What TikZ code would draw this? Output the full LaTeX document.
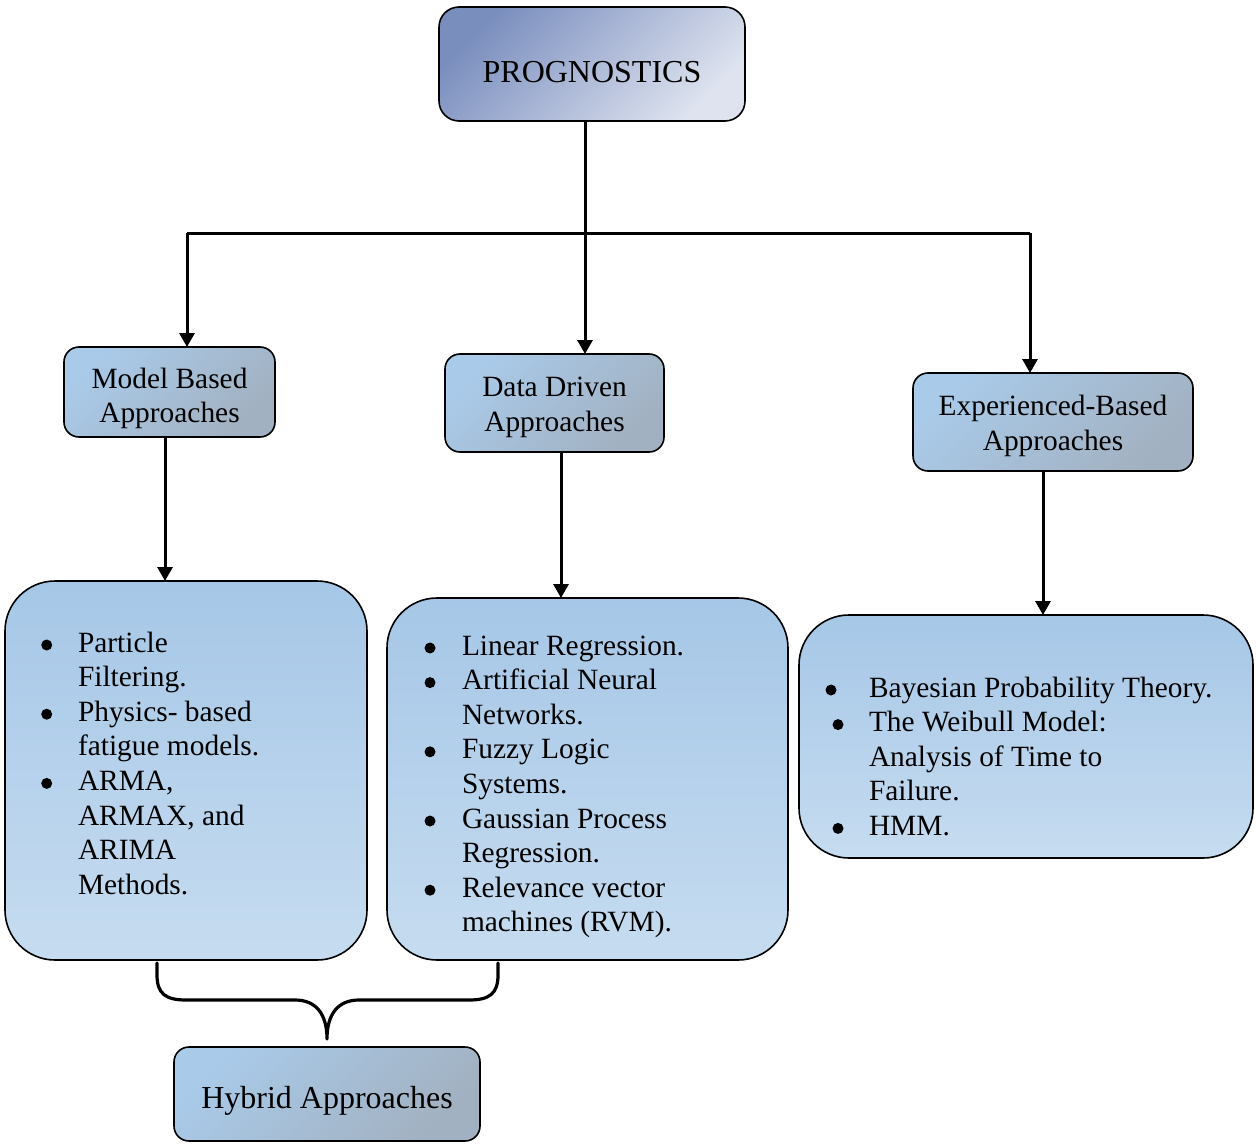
\documentclass[tikz,border=0pt]{standalone}
\usepackage{fontspec}
\setmainfont{Liberation Serif}
\usetikzlibrary{arrows.meta}
\definecolor{topA}{HTML}{7A8EBE}
\definecolor{topB}{HTML}{DEE3EF}
\definecolor{smA}{HTML}{A9CAE9}
\definecolor{smB}{HTML}{A2B1C1}
\definecolor{bgA}{HTML}{A6C7E7}
\definecolor{bgB}{HTML}{C6DCF0}
\newcommand{\lowr}[2]{\raisebox{-#1}[\height][\depth]{#2}}
\tikzset{
  box/.style={draw=black, line width=1.6pt, inner sep=0pt, outer sep=0pt, align=center,
    font=\fontsize{29.4}{34.5}\selectfont},
  topbox/.style={box, rounded corners=20pt, top color=topA, bottom color=topB, shading angle=45},
  smallbox/.style={box, rounded corners=15pt, top color=smA, bottom color=smB, shading angle=45},
  bigbox/.style={box, rounded corners=50pt, top color=bgA, bottom color=bgB},
  listtext/.style={inner sep=0pt, outer sep=0pt, anchor=base west, font=\fontsize{29.4}{34.6}\selectfont},
  bulletdot/.style={fill=black},
  conn/.style={line width=3pt, draw=black},
  arr/.style={conn, -{Triangle[width=15pt,length=14pt]}},
  brace/.style={line width=3.2pt, draw=black, line cap=round, line join=round}
}
\begin{document}
\begin{tikzpicture}[x=1pt,y=-1pt]
\useasboundingbox (0,0) rectangle (1256,1145);

% boxes
\node[topbox, minimum width=306pt, minimum height=114pt, text height=38pt, text depth=0pt,
  font=\fontsize{32}{36}\selectfont] (prog) at (592,64) {PROGNOSTICS};
\node[smallbox, minimum width=211pt, minimum height=90pt] (mb) at (169.5,392)
  {\lowr{6.5pt}{\begin{tabular}{@{}c@{}}Model Based\\Approaches\end{tabular}}};
\node[smallbox, minimum width=219pt, minimum height=98pt] (dd) at (554.5,403)
  {\lowr{4pt}{\begin{tabular}{@{}c@{}}Data Driven\\Approaches\end{tabular}}};
\node[smallbox, minimum width=280pt, minimum height=98pt] (eb) at (1053,422)
  {\lowr{4pt}{\begin{tabular}{@{}c@{}}Experienced-Based\\Approaches\end{tabular}}};

\node[bigbox, minimum width=362pt, minimum height=379pt] (b1) at (186,770.5) {};
\node[bigbox, minimum width=401pt, minimum height=362pt] (b2) at (587.5,779) {};
\node[bigbox, minimum width=454pt, minimum height=243pt] (b3) at (1026,736.5) {};

\node[smallbox, minimum width=306pt, minimum height=94pt, font=\fontsize{32}{36}\selectfont] (hy) at (327,1094)
  {\lowr{7pt}{Hybrid Approaches}};

% list texts
\renewcommand{\arraystretch}{1}
\node[listtext] (t1) at (78,652) {\begin{tabular}[t]{@{}l@{}}
Particle\\
Filtering.\\
Physics- based\\
fatigue models.\\
ARMA,\\
ARMAX, and\\
ARIMA\\
Methods.
\end{tabular}};
\node[listtext] (t2) at (462,655) {\begin{tabular}[t]{@{}l@{}}
Linear Regression.\\
Artificial Neural\\
Networks.\\
Fuzzy Logic\\
Systems.\\
Gaussian Process\\
Regression.\\
Relevance vector\\
machines (RVM).
\end{tabular}};
\node[listtext] (t3) at (869,697) {\begin{tabular}[t]{@{}l@{}}
Bayesian Probability Theory.\\
The Weibull Model:\\
Analysis of Time to\\
Failure.\\
HMM.
\end{tabular}};

% bullets
\foreach \y in {645,714.2,783.4} \fill[bulletdot] (46.7,\y) circle (5.5);
\foreach \y in {648,682.6,751.8,821,890.2} \fill[bulletdot] (430,\y) circle (5.5);
\fill[bulletdot] (831,690) circle (5.5);
\foreach \y in {724.6,828.4} \fill[bulletdot] (838,\y) circle (5.5);

% connectors
\coordinate (j) at (585,233);
\coordinate (jl) at (187,233);
\coordinate (jr) at (1030,233);
\coordinate (xa) at (165,0);
\coordinate (xb) at (561,0);
\coordinate (xc) at (1043,0);
\draw[conn] (prog.south -| j) -- (j);
\draw[conn] (jl) -- (jr);
\draw[arr] (jl) -- (jl |- mb.north);
\draw[arr] (j) -- (j |- dd.north);
\draw[arr] (jr) -- (jr |- eb.north);
\draw[arr] (mb.south -| xa) -- (b1.north -| xa);
\draw[arr] (dd.south -| xb) -- (b2.north -| xb);
\draw[arr] (eb.south -| xc) -- (b3.north -| xc);

% brace
\coordinate (bl) at (157,963);
\coordinate (br) at (498,963);
\coordinate (tip) at (327,1039);
\draw[brace] (bl) -- (157,975) .. controls (157,994) and (166,1000) .. (186,1000)
  -- (295,1000) .. controls (316,1000) and (327,1014) .. (tip)
  .. controls (327,1014) and (338,1000) .. (359,1000)
  -- (469,1000) .. controls (489,1000) and (498,994) .. (498,975) -- (br);
\end{tikzpicture}
\end{document}
